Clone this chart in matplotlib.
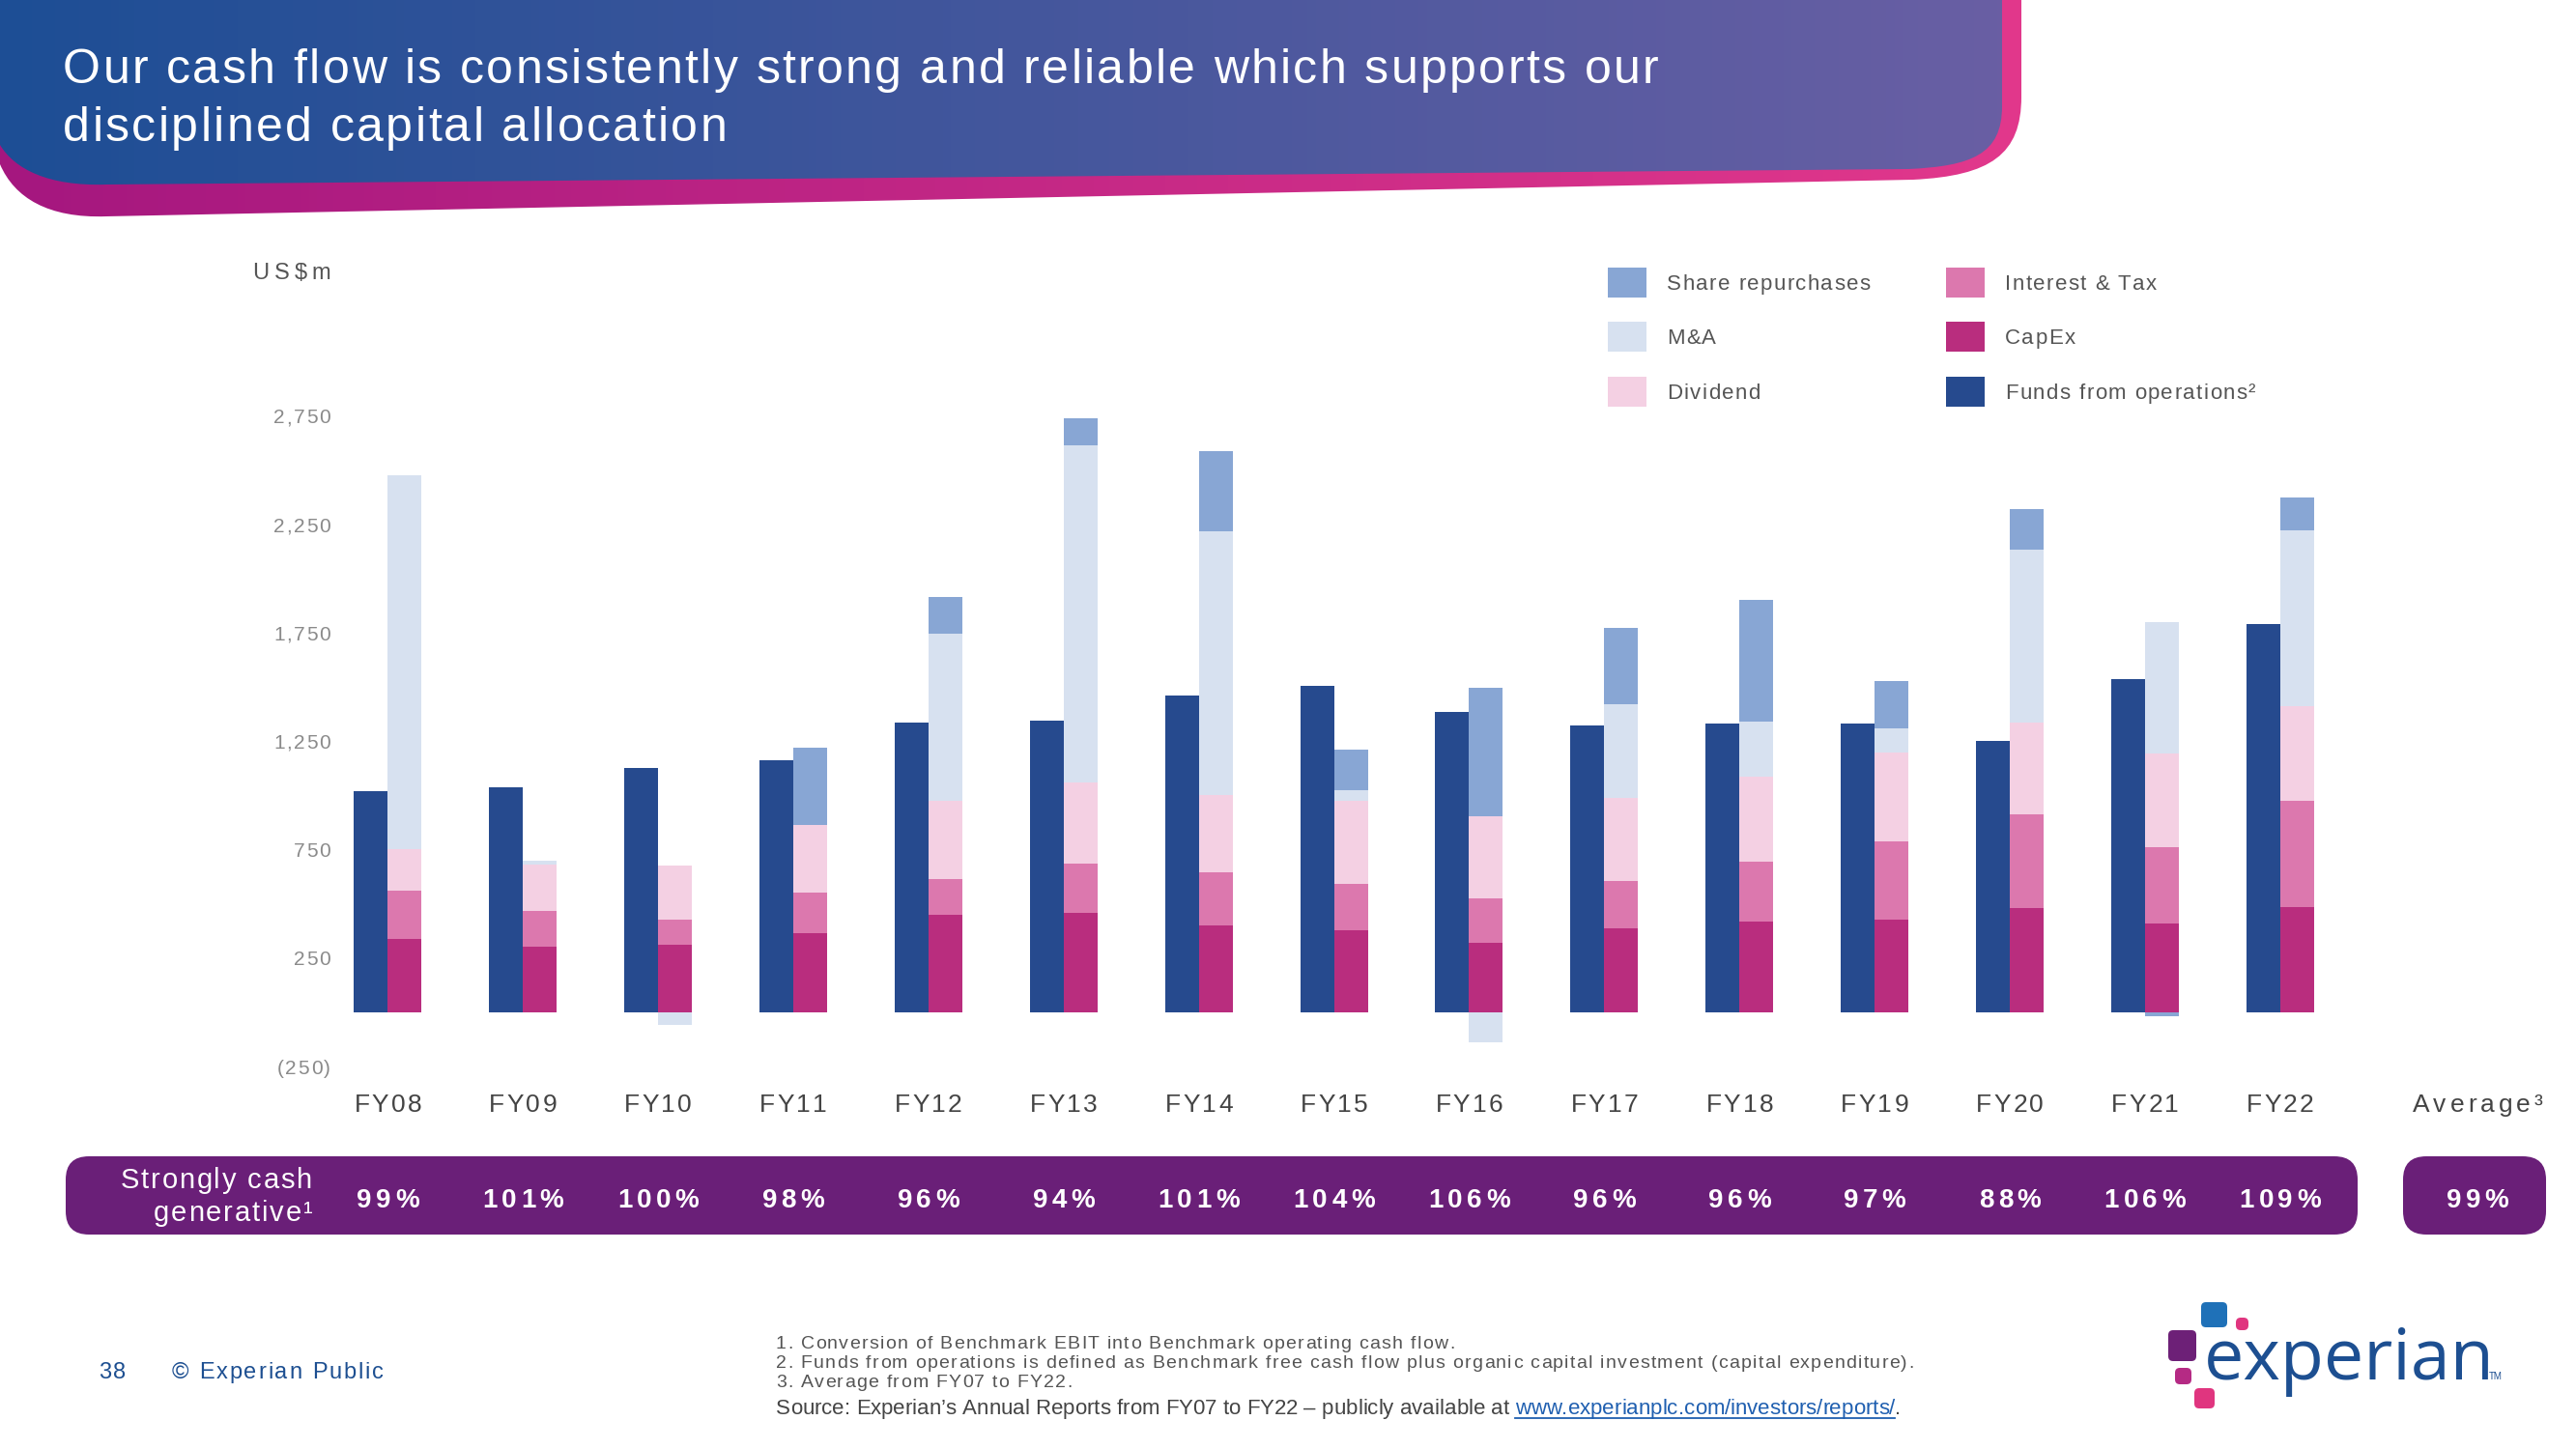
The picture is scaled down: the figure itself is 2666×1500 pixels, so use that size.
import numpy as np
import matplotlib
matplotlib.use('Agg')
import matplotlib.pyplot as plt
from matplotlib.path import Path
from matplotlib.patches import PathPatch, FancyBboxPatch, Rectangle
from matplotlib.font_manager import FontProperties

plt.rcParams['font.family'] = ['Liberation Sans', 'DejaVu Sans']

# ---- data (US$m) ----
years = ['FY08', 'FY09', 'FY10', 'FY11', 'FY12', 'FY13', 'FY14', 'FY15',
         'FY16', 'FY17', 'FY18', 'FY19', 'FY20', 'FY21', 'FY22']
funds_ops = [1020, 1037, 1129, 1161, 1337, 1345, 1463, 1508,
             1386, 1323, 1333, 1333, 1253, 1537, 1792]
capex = [341, 302, 310, 367, 451, 457, 400, 378, 320, 390, 418, 427, 480, 412, 486]
interest_tax = [222, 165, 117, 184, 163, 229, 245, 216, 205, 214, 276, 361, 434, 351, 488]
dividend = [190, 213, 249, 314, 362, 375, 357, 382, 381, 384, 392, 410, 423, 429, 440]
m_and_a = [1723, 20, -59, 0, 771, 1556, 1219, 49, -139, 433, 253, 112, 796, 610, 811]
share_repurchases = [0, 0, 0, 355, 167, 124, 369, 189, 592, 353, 565, 219, 188, -16, 151]
conversion = ['99%', '101%', '100%', '98%', '96%', '94%', '101%', '104%',
              '106%', '96%', '96%', '97%', '88%', '106%', '109%']
avg_label = 'Average³'
avg_conversion = '99%'

y_ticks = [-250, 250, 750, 1250, 1750, 2250, 2750]
y_tick_labels = ['(250)', '250', '750', '1,250', '1,750', '2,250', '2,750']

C_FFO = '#264a8e'
C_CAPEX = '#b92d7e'
C_IT = '#dc78ae'
C_DIV = '#f4d0e3'
C_MA = '#d7e1f0'
C_SR = '#88a6d4'
C_PURPLE = '#6a1f78'
C_TEXT = '#555555'
C_NAVY = '#1d4f91'

W, H = 2666, 1500
fig = plt.figure(figsize=(W / 100, H / 100), dpi=100)
renderer = fig.canvas.get_renderer()

# background axes in pixel coordinates (y down)
bg = fig.add_axes([0, 0, 1, 1])
bg.set_xlim(0, W)
bg.set_ylim(H, 0)
bg.axis('off')

_adv_cache = {}


def advances(s, size, weight='normal', family='Liberation Sans'):
    fp = FontProperties(family=[family, 'DejaVu Sans'], weight=weight, size=size)
    ref = renderer.get_text_width_height_descent('HH', fp, ismath=False)[0]
    out = []
    for c in s:
        key = (c, size, weight, family)
        if key not in _adv_cache:
            wc = renderer.get_text_width_height_descent('H' + c + 'H', fp, ismath=False)[0]
            _adv_cache[key] = wc - ref
        out.append(_adv_cache[key])
    return out


def tracked(x, y, s, size, track=0.0, ha='left', color=C_TEXT, weight='normal',
            family='Liberation Sans', z=6):
    # letter-spaced text, y is the baseline in pixels (y down)
    adv = advances(s, size, weight, family)
    total = sum(adv) + track * (len(s) - 1)
    if ha == 'center':
        x -= total / 2
    elif ha == 'right':
        x -= total
    start = x
    for ch, a in zip(s, adv):
        if not ch.isspace():
            bg.text(x, y, ch, fontsize=size, ha='left', va='baseline', color=color,
                    fontweight=weight, family=[family, 'DejaVu Sans'], zorder=z)
        x += a + track
    return start, x - track


def gradient_shape(verts, codes, c_left, c_right, z):
    path = Path(verts, codes)
    patch = PathPatch(path, facecolor='none', edgecolor='none', zorder=z)
    bg.add_patch(patch)
    grad = np.linspace(0, 1, 256).reshape(1, -1)
    cmap = matplotlib.colors.LinearSegmentedColormap.from_list('g', [c_left, c_right])
    im = bg.imshow(grad, cmap=cmap, extent=[0, 2100, 240, 0], aspect='auto', zorder=z)
    im.set_clip_path(patch)


M, L, C4, CL = Path.MOVETO, Path.LINETO, Path.CURVE4, Path.CLOSEPOLY
codes = [M, L, L, C4, C4, C4, L, C4, C4, C4, CL]
mag_v = [(0, 0), (2092, 0), (2092, 100), (2092, 160), (2060, 182), (1980, 186),
         (110, 224), (50, 226), (15, 205), (0, 170), (0, 0)]
gradient_shape(mag_v, codes, '#a5177f', '#e2388c', 1)
blue_v = [(0, 0), (2072, 0), (2072, 110), (2072, 160), (2040, 172), (1975, 175),
          (110, 191), (50, 193), (15, 175), (0, 150), (0, 0)]
gradient_shape(blue_v, codes, '#1d4e95', '#6a5fa4', 2)

tracked(65, 86, 'Our cash flow is consistently strong and reliable which supports our',
        36, 2.4, color='white')
tracked(65, 146, 'disciplined capital allocation', 36, 2.4, color='white')

# ---- chart axes ----
ax = fig.add_axes([350 / W, 1 - 1110 / H, (2620 - 350) / W, (1110 - 420) / H])
ax.patch.set_alpha(0)
x = np.arange(len(years))
w = 0.25
ax.bar(x - w / 2, funds_ops, w, color=C_FFO, zorder=3)

pos = np.zeros(len(years))
neg = np.zeros(len(years))
for vals, col in [(capex, C_CAPEX), (interest_tax, C_IT), (dividend, C_DIV),
                  (m_and_a, C_MA), (share_repurchases, C_SR)]:
    v = np.array(vals, dtype=float)
    bottom = np.where(v >= 0, pos, neg)
    ax.bar(x + w / 2, v, w, bottom=bottom, color=col, zorder=3)
    pos += np.clip(v, 0, None)
    neg += np.clip(v, None, 0)

avg_x = 15.46
ax.set_xlim(-0.367, 15.86)
ax.set_ylim(-276, 2798)
for s in ax.spines.values():
    s.set_visible(False)
ax.set_yticks(y_ticks)
ax.set_xticks(list(x) + [avg_x])
ax.tick_params(length=0, labelbottom=False, labelleft=False)


def px_x(xd):
    return ax.transData.transform((xd, 0))[0]


def px_y(yd):
    return H - ax.transData.transform((0, yd))[1]


# tick labels, letter-spaced like the original
for t, lab in zip(y_ticks, y_tick_labels):
    tracked(342, px_y(t) + 7.5, lab, 15, 1.7, ha='right', color='#8a8a8a')
for xi, lab in zip(x, years):
    tracked(px_x(xi), 1151, lab, 19, 2.3, ha='center', color='#444444')
tracked(px_x(avg_x), 1151, avg_label, 19, 4, ha='center', color='#444444')

tracked(342, 289, 'US$m', 17, 5, ha='right', color=C_TEXT)

# ---- legend ----
legend_items = [('Share repurchases', C_SR), ('M&A', C_MA), ('Dividend', C_DIV),
                ('Interest & Tax', C_IT), ('CapEx', C_CAPEX),
                ('Funds from operations²', C_FFO)]
for i, (lab, col) in enumerate(legend_items):
    cx = 1664 if i < 3 else 2014
    cy = [292, 348, 405][i % 3]
    bg.add_patch(Rectangle((cx, cy - 15), 40, 31, facecolor=col, edgecolor='none'))
    tracked(cx + 61, cy + 8, lab, 16, 1.4, color=C_TEXT)

# ---- cash conversion band ----
bg.add_patch(FancyBboxPatch((68, 1197), 2372, 81, boxstyle='round,pad=0,rounding_size=24',
                            facecolor=C_PURPLE, edgecolor='none'))
bg.add_patch(FancyBboxPatch((2487, 1197), 148, 81, boxstyle='round,pad=0,rounding_size=24',
                            facecolor=C_PURPLE, edgecolor='none'))
tracked(323, 1230, 'Strongly cash', 21, 1.8, ha='right', color='white')
tracked(323, 1264, 'generative¹', 21, 1.8, ha='right', color='white')
for xi, pct in zip(x, conversion):
    tracked(px_x(xi), 1250, pct, 20, 4.5, ha='center', color='white', weight='bold')
tracked(px_x(avg_x), 1250, avg_conversion, 20, 4.5, ha='center', color='white', weight='bold')

# ---- footer ----
tracked(102, 1427, '38', 17, 1.9, color=C_NAVY)
tracked(178, 1427, '© Experian Public', 17, 1.9, color=C_NAVY)
notes = ['1. Conversion of Benchmark EBIT into Benchmark operating cash flow.',
         '2. Funds from operations is defined as Benchmark free cash flow plus organic capital investment (capital expenditure).',
         '3. Average from FY07 to FY22.']
for i, n in enumerate(notes):
    tracked(803, 1396 + 20 * i, n, 14, 1.3, color=C_TEXT)
_, sx = tracked(803, 1464, 'Source: Experian\u2019s Annual Reports from FY07 to FY22 \u2013 publicly available at ',
                16, 0, color='#444444')
l0, l1 = tracked(sx, 1464, 'www.experianplc.com/investors/reports/', 16, 0, color='#1f5fb0')
tracked(l1, 1464, '.', 16, 0, color='#444444')
bg.plot([l0, l1], [1468, 1468], color='#1f5fb0', lw=1.3)

# ---- logo ----
for (lx, ly, sw, sh, col) in [(2278, 1348, 27, 26, '#1f71b8'), (2314, 1364, 13, 13, '#e0357f'),
                              (2244, 1377, 29, 32, '#6d2077'), (2251, 1416, 17, 17, '#b52a84'),
                              (2271, 1437, 21, 21, '#e0357f')]:
    bg.add_patch(FancyBboxPatch((lx, ly), sw, sh, boxstyle='round,pad=0,rounding_size=5',
                                facecolor=col, edgecolor='none'))
bg.text(2281, 1428, 'experian', fontsize=53, color=C_NAVY, va='baseline', ha='left',
        family=['Open Sans', 'DejaVu Sans'])
bg.text(2576, 1428, 'TM', fontsize=7, color=C_NAVY, va='baseline', ha='left')

fig.savefig('out.png', dpi=100)
